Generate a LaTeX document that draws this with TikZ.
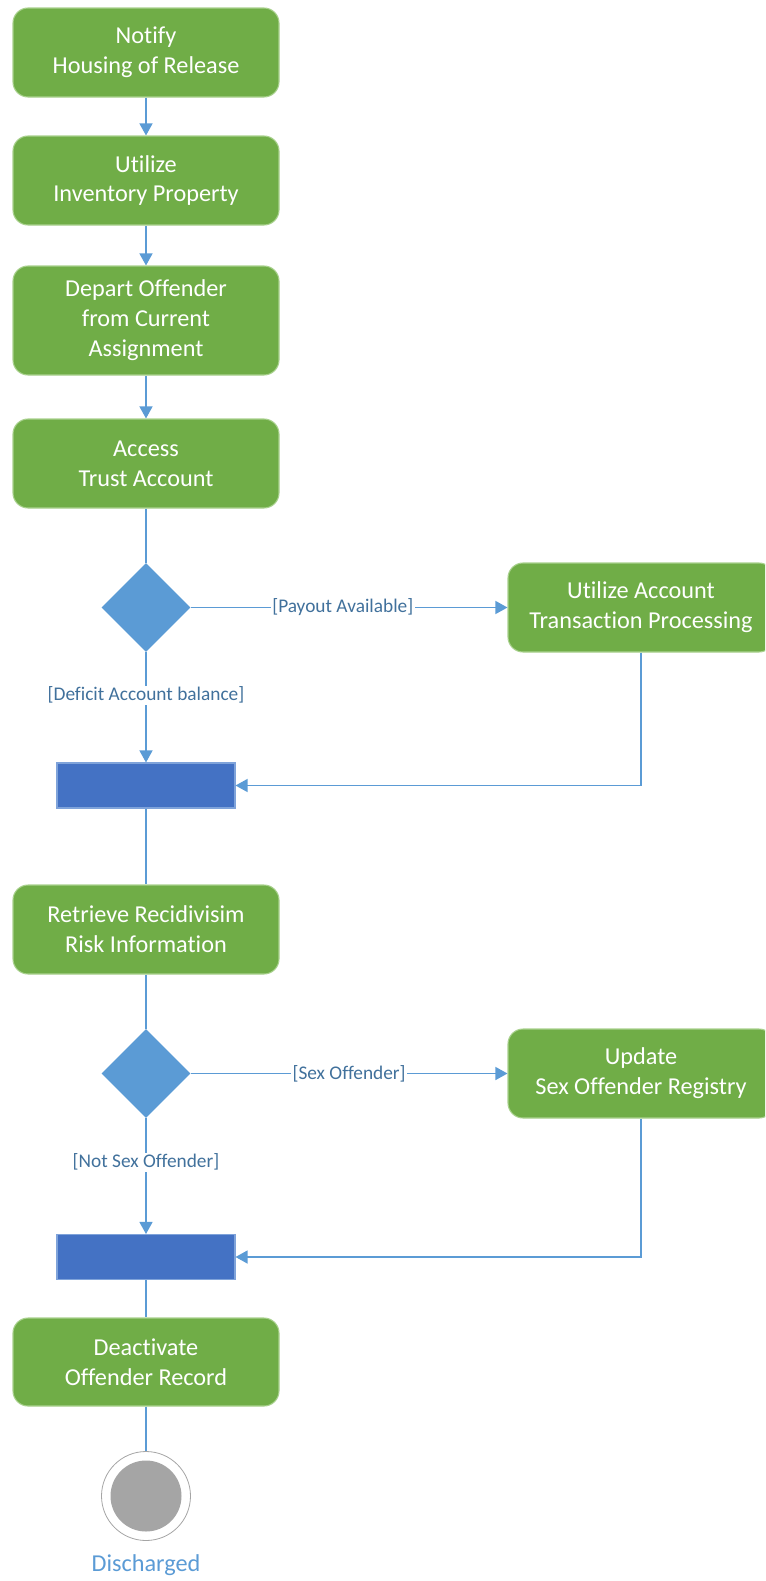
\documentclass[tikz,border=0pt]{standalone}
\usepackage{fontspec}
\setmainfont{Carlito}[Ligatures={NoCommon}]
\usetikzlibrary{shapes.geometric,arrows.meta}
\definecolor{actgreen}{HTML}{70AD47}
\definecolor{actborder}{HTML}{A9D18E}
\definecolor{lineblue}{HTML}{5B9BD5}
\definecolor{barblue}{HTML}{4472C4}
\definecolor{barborder}{HTML}{7FA3DA}
\definecolor{labelblue}{HTML}{41719C}
\definecolor{endgray}{HTML}{A5A5A5}
\tikzset{
  activity/.style={rectangle, rounded corners=15*0.75pt, fill=actgreen, draw=actborder, line width=0.8pt,
    minimum width=266*0.75pt, minimum height=89*0.75pt, inner sep=0pt, align=center, text=white,
    font=\fontsize{18.2}{22.4}\selectfont},
  decision/.style={diamond, fill=lineblue, draw=none, minimum width=89*0.75pt, minimum height=89*0.75pt, inner sep=0pt},
  syncbar/.style={rectangle, fill=barblue, draw=barborder, line width=0.8pt, minimum width=178*0.75pt, minimum height=45*0.75pt, inner sep=0pt},
  flow/.style={draw=lineblue, line width=1pt},
  arrowflow/.style={flow, -{Triangle[width=13*0.75pt,length=12*0.75pt]}},
  guard/.style={fill=white, text=labelblue, inner sep=1pt, font=\fontsize{14.5}{17}\selectfont},
}
\begin{document}
\begin{tikzpicture}[x=0.75pt,y=-0.75pt]
\useasboundingbox (0,0) rectangle (765,1581);
\clip (0,0) rectangle (765,1581);
\node[activity] (b1) at (146,52.5) {Notify\\Housing of Release};
\node[activity] (b2) at (146,180.5) {Utilize\\Inventory Property};
\node[activity, minimum height=109*0.75pt] (b3) at (146,320.5) {Depart Offender\\from Current\\Assignment};
\node[activity] (b4) at (146,463.5) {Access\\Trust Account};
\node[decision] (d1) at (146,607.5) {};
\node[activity] (r1) at (641,607.5) {Utilize Account\\Transaction Processing};
\node[syncbar] (s1) at (146,785.5) {};
\node[activity] (b5) at (146,929.5) {Retrieve Recidivisim\\Risk Information};
\node[decision] (d2) at (146,1073.5) {};
\node[activity] (r2) at (641,1073.5) {Update\\Sex Offender Registry};
\node[syncbar] (s2) at (146,1257) {};
\node[activity, minimum height=88*0.75pt] (b6) at (146,1362) {Deactivate\\Offender Record};
\node[circle, draw=endgray, fill=white, line width=0.6pt, minimum size=89*0.75pt, inner sep=0pt] (fin) at (146,1496) {};
\node[circle, fill=endgray, minimum size=71*0.75pt, inner sep=0pt] (finin) at (fin.center) {};
\node[text=lineblue, font=\fontsize{18.2}{22}\selectfont, anchor=center] (lbl) at (146,1565) {Discharged};

\draw[arrowflow] (b1.south) -- (b2.north);
\draw[arrowflow] (b2.south) -- (b3.north);
\draw[arrowflow] (b3.south) -- (b4.north);
\draw[flow] (b4.south) -- (d1.north);
\draw[arrowflow] (d1.east) -- node[guard, pos=0.48] {[Payout Available]} (r1.west);
\draw[arrowflow] (d1.south) -- node[guard, pos=0.39] {[Deficit Account balance]} (s1.north);
\draw[arrowflow] (r1.south) |- (s1.east);
\draw[flow] (s1.south) -- (b5.north);
\draw[flow] (b5.south) -- (d2.north);
\draw[arrowflow] (d2.east) -- node[guard, pos=0.5] {[Sex Offender]} (r2.west);
\draw[arrowflow] (d2.south) -- node[guard, pos=0.38] {[Not Sex Offender]} (s2.north);
\draw[arrowflow] (r2.south) |- (s2.east);
\draw[flow] (s2.south) -- (b6.north);
\draw[flow] (b6.south) -- (fin.north);
\end{tikzpicture}
\end{document}
